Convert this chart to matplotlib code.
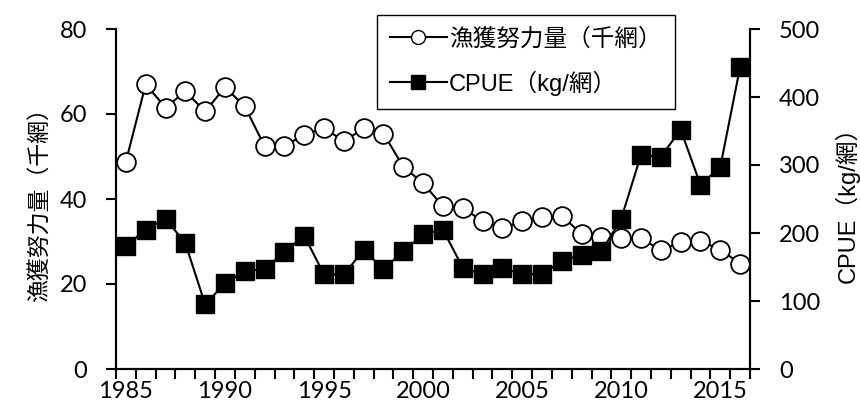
import numpy as np
import matplotlib
matplotlib.use("Agg")
import matplotlib.pyplot as plt
from matplotlib.lines import Line2D

plt.rcParams['font.family'] = ['Lato', 'Noto Sans CJK JP', 'DejaVu Sans']

# data
years = list(range(1985, 2017))
effort = [48.8, 67.0, 61.5, 65.3, 60.6, 66.3, 61.8, 52.4, 52.5, 55.1,
          56.7, 53.6, 56.6, 55.4, 47.6, 43.7, 38.3, 37.9, 34.8, 33.1,
          34.8, 35.7, 36.0, 31.8, 31.0, 30.8, 30.8, 27.9, 29.9, 30.1,
          28.1, 24.8]
cpue = [181, 205, 221, 185, 95, 126, 144, 147, 172, 196,
        139, 139, 175, 147, 173, 198, 205, 149, 139, 148,
        140, 139, 159, 168, 173, 221, 315, 312, 352, 271,
        297, 444]
year_labels = [1985, 1990, 1995, 2000, 2005, 2010, 2015]
left_ticks = [0, 20, 40, 60, 80]
right_ticks = [0, 100, 200, 300, 400, 500]

label_effort = '漁獲努力量（千網）'
label_cpue = 'CPUE（kg/網）'

fig = plt.figure(figsize=(8.6, 4.05), dpi=100)
ax = fig.add_axes([116 / 860, 1 - 369 / 405, (750 - 116) / 860, (369 - 29) / 405])
ax2 = ax.twinx()

ax.plot(years, effort, '-o', color='black', lw=1.5, ms=13.5,
        mfc='white', mec='black', mew=1.3)
ax2.plot(years, cpue, '-s', color='black', lw=1.5, ms=13,
         mfc='black', mec='black')

ax.set_xlim(1984.5, 2016.5)
ax.set_ylim(0, 80)
ax2.set_ylim(0, 500)

# category style x axis: marks between years, labels every 5 years
ax.set_xticks(year_labels)
ax.set_xticklabels([str(y) for y in year_labels])
ax.set_xticks(np.arange(1984.5, 2017, 1), minor=True)
ax.tick_params(axis='x', which='major', length=0, labelsize=17, pad=9)
ax.tick_params(axis='x', which='minor', length=7, width=1.5, direction='out')

ax.set_yticks(left_ticks)
ax.tick_params(axis='y', length=7, width=1.5, direction='out', labelsize=17, pad=14)
ax2.set_yticks(right_ticks)
ax2.tick_params(axis='y', length=7, width=1.5, direction='out', labelsize=17, pad=14)

for a in (ax, ax2):
    a.spines['top'].set_visible(False)
    for s in ('left', 'right', 'bottom'):
        a.spines[s].set_linewidth(1.5)

ax.set_ylabel(label_effort, fontsize=16.5, family=['Noto Sans CJK JP'], labelpad=6)
ax2.set_ylabel(label_cpue, fontsize=17, family=['Liberation Sans', 'Noto Sans CJK JP'],
               labelpad=10)

handles = [
    Line2D([], [], color='black', lw=1.5, marker='o', ms=10, mfc='white', mec='black'),
    Line2D([], [], color='black', lw=1.5, marker='s', ms=9.5, mfc='black', mec='black'),
]
leg = ax2.legend(handles, [label_effort, label_cpue], loc='upper left',
                 bbox_to_anchor=(377 / 860, 1 - 15 / 405), bbox_transform=fig.transFigure,
                 borderaxespad=0,
                 prop={'family': ['Liberation Sans', 'Noto Sans CJK JP'], 'size': 17},
                 handlelength=2.4, handletextpad=0.1, labelspacing=0.85,
                 borderpad=0.55, fancybox=False, framealpha=1, edgecolor='black')
leg.get_frame().set_linewidth(1.0)

fig.savefig('out.png', dpi=100)
